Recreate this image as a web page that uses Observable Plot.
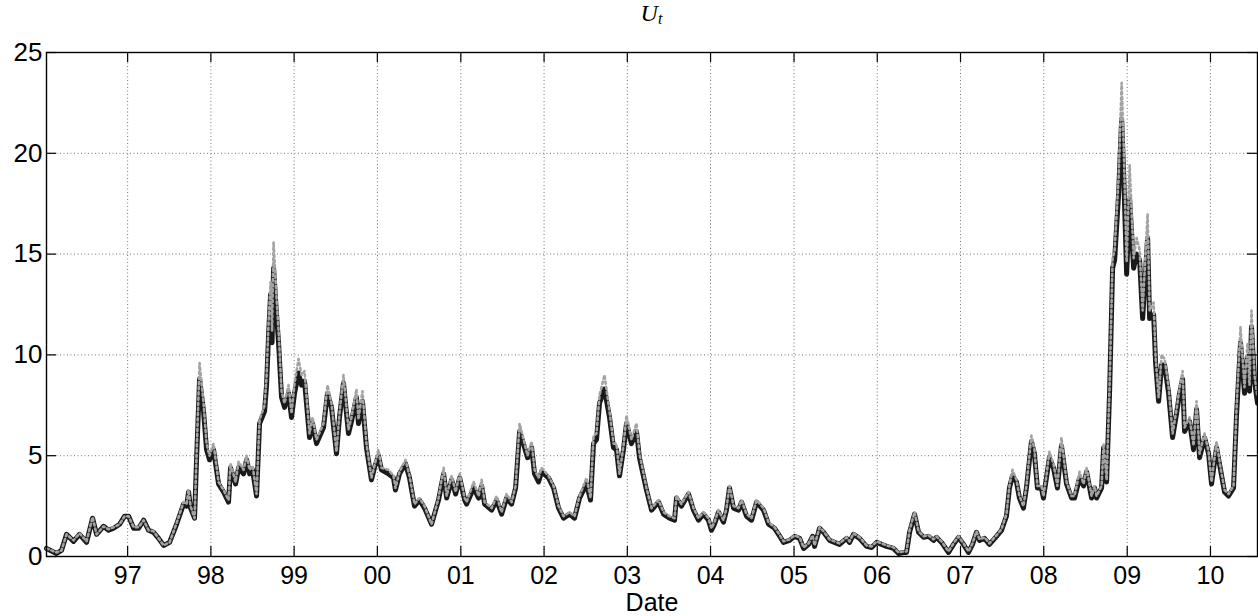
<!DOCTYPE html>
<html>
<head>
<meta charset="utf-8">
<script src="https://cdn.jsdelivr.net/npm/d3@7"></script>
<script src="https://cdn.jsdelivr.net/npm/@observablehq/plot@0.6"></script>
<style>
  html, body { margin: 0; padding: 0; background: #fff; }
  #wrap { position: relative; width: 1258px; height: 616px; }
  #title { position: absolute; top: -2px; left: 46px; width: 1211px; text-align: center;
           font-family: "Liberation Serif", "DejaVu Serif", serif; font-style: italic; font-size: 24px; line-height: 30px; }
  #title sub { font-size: 16px; vertical-align: -3px; }
</style>
</head>
<body>
<div id="wrap"><div id="title">U<sub>t</sub></div><div id="chart"></div></div>
<script>
// decimal-year time stamps
const times = [
1996.028,1996.148,1996.208,1996.268,1996.352,1996.424,1996.508,1996.580,1996.628,1996.712,1996.772,1996.832,1996.904,1996.964,
1997.012,1997.072,1997.132,1997.192,1997.252,1997.312,1997.372,1997.432,1997.504,1997.588,1997.672,1997.708,1997.732,1997.756,1997.804,1997.828,1997.864,1997.912,1997.948,1997.984,
1998.032,1998.092,1998.152,1998.212,1998.236,1998.297,1998.333,1998.393,1998.429,1998.465,1998.501,1998.549,1998.585,1998.645,1998.669,1998.693,1998.717,1998.735,1998.753,1998.789,1998.813,1998.849,1998.885,1998.933,1998.969,
1999.005,1999.053,1999.089,1999.125,1999.185,1999.221,1999.269,1999.353,1999.401,1999.449,1999.509,1999.545,1999.593,1999.653,1999.689,1999.749,1999.773,1999.821,1999.869,1999.929,1999.965,
2000.013,2000.049,2000.133,2000.193,2000.217,2000.265,2000.337,2000.385,2000.445,2000.505,2000.565,2000.649,2000.733,2000.794,2000.830,2000.890,2000.938,2000.986,
2001.046,2001.070,2001.154,2001.214,2001.250,2001.286,2001.370,2001.430,2001.490,2001.550,2001.610,2001.658,2001.706,2001.766,2001.802,2001.850,2001.886,2001.934,2001.970,
2002.054,2002.114,2002.174,2002.234,2002.306,2002.366,2002.426,2002.510,2002.558,2002.594,2002.630,2002.666,2002.726,2002.786,2002.834,2002.870,2002.906,2002.954,2002.990,
2003.050,2003.110,2003.146,2003.230,2003.291,2003.375,2003.435,2003.507,2003.567,2003.591,2003.651,2003.735,2003.795,2003.855,2003.915,2003.975,
2004.011,2004.047,2004.095,2004.155,2004.191,2004.227,2004.275,2004.335,2004.371,2004.431,2004.491,2004.551,2004.635,2004.695,2004.767,2004.815,2004.875,2004.947,
2005.007,2005.067,2005.115,2005.175,2005.223,2005.247,2005.307,2005.355,2005.427,2005.547,2005.631,2005.667,2005.715,2005.787,2005.872,2005.932,2005.992,
2006.052,2006.112,2006.196,2006.256,2006.316,2006.352,2006.388,2006.448,2006.496,2006.556,2006.616,2006.676,2006.712,2006.772,2006.856,2006.916,2006.976,
2007.036,2007.096,2007.144,2007.192,2007.228,2007.288,2007.348,2007.432,2007.492,2007.552,2007.588,2007.624,2007.672,2007.708,2007.756,2007.792,2007.852,2007.888,2007.924,2007.972,2007.996,
2008.032,2008.068,2008.116,2008.164,2008.212,2008.273,2008.333,2008.369,2008.429,2008.477,2008.513,2008.573,2008.609,2008.633,2008.693,2008.717,2008.753,2008.789,2008.825,2008.849,2008.897,2008.933,2008.957,2008.993,
2009.029,2009.077,2009.113,2009.149,2009.185,2009.245,2009.269,2009.317,2009.341,2009.377,2009.413,2009.449,2009.497,2009.545,2009.593,2009.629,2009.665,2009.689,2009.749,2009.797,2009.833,2009.869,2009.929,2009.977,
2010.013,2010.073,2010.121,2010.169,2010.217,2010.277,2010.313,2010.361,2010.409,2010.445,2010.469,2010.493,2010.529,2010.565
];
// black solid series
const seriesA = [
0.4,0.15,0.3,1.1,0.75,1.1,0.7,1.9,1.1,1.5,1.3,1.4,1.6,2.0,
2.0,1.4,1.4,1.8,1.3,1.2,0.9,0.55,0.7,1.6,2.6,2.5,3.2,2.4,1.9,4.8,8.8,7.2,5.3,4.8,
5.3,3.6,3.2,2.7,4.4,3.6,4.4,4.1,4.8,4.1,4.3,3.0,6.6,7.2,8.5,11.0,13.0,10.6,14.3,12.0,10.6,7.9,7.4,8.1,6.9,
8.1,9.1,8.5,8.7,5.9,6.6,5.6,6.4,8.1,7.4,5.1,6.9,8.6,6.1,6.7,7.9,6.6,7.7,5.4,3.8,4.4,
5.0,4.3,4.1,3.9,3.3,4.1,4.6,3.9,2.5,2.8,2.4,1.6,2.8,4.1,2.9,3.8,3.1,3.9,
2.8,2.6,3.4,2.9,3.5,2.6,2.3,2.8,2.1,2.9,2.6,3.4,6.2,5.4,4.9,5.4,4.1,3.7,4.2,
3.9,3.4,2.4,1.9,2.1,1.9,2.9,3.6,2.8,5.6,5.8,7.6,8.3,6.9,5.4,5.3,4.0,5.3,6.6,
5.6,6.2,4.9,3.3,2.3,2.7,2.1,1.9,1.8,2.9,2.5,3.1,2.3,1.8,2.1,1.8,
1.3,1.6,2.2,1.7,2.3,3.4,2.4,2.3,2.7,2.0,1.8,2.7,2.3,1.6,1.4,1.1,0.7,0.8,
1.0,0.9,0.4,0.6,1.0,0.5,1.4,1.2,0.8,0.6,0.9,0.7,1.1,0.9,0.5,0.45,0.7,
0.6,0.5,0.4,0.15,0.2,0.2,1.2,2.1,1.2,0.95,1.0,0.8,0.95,0.7,0.2,0.6,0.95,
0.6,0.2,0.6,1.2,0.8,0.9,0.6,1.0,1.3,2.0,3.4,4.0,3.7,2.9,2.4,3.4,5.7,5.1,3.4,3.4,2.9,
3.9,4.9,4.4,3.4,5.5,3.6,2.9,2.9,3.9,3.5,4.2,2.9,3.4,2.9,3.4,5.4,3.7,8.2,14.3,14.7,18.0,21.7,19.0,14.0,
17.7,14.3,15.0,14.7,11.8,15.8,11.8,12.0,9.6,7.7,9.5,9.5,8.1,5.9,7.1,8.1,8.8,6.2,6.7,5.3,7.3,4.9,5.9,5.1,
3.6,5.4,4.3,3.2,3.0,3.4,7.0,10.6,8.1,9.9,8.2,11.4,8.7,7.6
];
// grey dotted series
const seriesB = [
0.4,0.2,0.3,1.1,0.8,1.15,0.75,1.95,1.1,1.5,1.35,1.45,1.6,2.0,
2.0,1.45,1.45,1.8,1.3,1.25,0.9,0.55,0.7,1.65,2.7,2.6,3.3,2.5,1.9,5.0,9.6,7.6,5.6,5.0,
5.6,3.7,3.3,2.8,4.6,3.7,4.7,4.3,5.0,4.3,4.5,3.1,6.8,7.5,8.9,11.6,13.6,11.2,15.6,12.8,11.2,8.2,7.6,8.5,7.1,
8.6,9.8,9.0,9.2,6.1,6.9,5.8,6.6,8.5,7.6,5.2,7.1,9.0,6.3,6.9,8.3,6.8,8.2,5.6,3.9,4.5,
5.3,4.4,4.3,4.0,3.4,4.2,4.8,4.0,2.6,2.9,2.5,1.6,2.9,4.4,3.0,4.0,3.2,4.1,
2.9,2.7,3.7,3.0,3.8,2.7,2.4,3.0,2.2,3.1,2.7,3.5,6.6,5.6,5.0,5.7,4.3,3.9,4.4,
4.0,3.5,2.5,2.0,2.2,2.0,3.0,3.9,2.9,6.0,6.1,8.0,9.0,7.2,5.6,5.6,4.1,5.5,7.0,
5.8,6.6,5.1,3.4,2.4,2.8,2.2,2.0,1.9,3.0,2.6,3.2,2.4,1.9,2.2,1.9,
1.4,1.7,2.3,1.8,2.4,3.5,2.5,2.4,2.8,2.1,1.9,2.8,2.4,1.7,1.45,1.15,0.75,0.85,
1.05,0.95,0.45,0.65,1.05,0.55,1.45,1.25,0.85,0.65,0.95,0.75,1.15,0.95,0.55,0.5,0.75,
0.65,0.55,0.45,0.2,0.25,0.25,1.3,2.2,1.25,1.0,1.05,0.85,1.0,0.75,0.25,0.65,1.0,
0.65,0.25,0.65,1.25,0.85,0.95,0.65,1.05,1.35,2.1,3.5,4.3,3.8,3.0,2.5,3.5,6.0,5.3,3.5,3.5,3.0,
4.0,5.2,4.6,3.5,5.9,3.7,3.0,3.0,4.2,3.6,4.4,3.0,3.5,3.0,3.5,5.6,3.8,8.5,14.8,15.2,18.8,23.5,20.5,14.6,
19.4,14.8,15.8,15.2,12.2,17.0,12.2,12.6,9.9,7.9,10.0,9.8,8.4,6.1,7.3,8.4,9.2,6.4,6.9,5.5,7.7,5.1,6.1,5.2,
3.7,5.7,4.4,3.3,3.1,3.5,7.3,11.4,8.4,10.6,8.5,12.2,9.0,7.9
];
const xTickYears = [1997,1998,1999,2000,2001,2002,2003,2004,2005,2006,2007,2008,2009,2010];
const yTicks = [0,5,10,15,20,25];
const xDomainYears = [1996.028, 2010.565];

function toDate(t) {
  const y = Math.floor(t);
  const a = Date.UTC(y, 0, 1), b = Date.UTC(y + 1, 0, 1);
  return new Date(a + (t - y) * (b - a));
}
const data = times.map((t, i) => ({date: toDate(t), a: seriesA[i], b: seriesB[i]}));
const xTicks = xTickYears.map(y => new Date(Date.UTC(y, 0, 1)));
const gridY = yTicks.filter(v => v > 0 && v < 25);

const W = 1258, H = 616, mL = 46, mR = 1, mT = 52, mB = 60;
const pw = W - mL - mR, ph = H - mT - mB;
const font = "'Liberation Sans', Arial, Helvetica, sans-serif";

const chart = Plot.plot({
  width: W, height: H,
  marginLeft: mL, marginRight: mR, marginTop: mT, marginBottom: mB,
  style: {fontFamily: font, background: "white", color: "black"},
  x: {type: "utc", domain: xDomainYears.map(toDate)},
  y: {domain: [0, 25]},
  marks: [
    Plot.ruleX(xTicks, {stroke: "#777", strokeWidth: 1, strokeDasharray: "1,2.5"}),
    Plot.ruleY(gridY, {stroke: "#777", strokeWidth: 1, strokeDasharray: "1,2.5"}),
    Plot.lineY(data, {x: "date", y: "a", stroke: "#1a1a1a", strokeWidth: 5, strokeLinejoin: "round"}),
    Plot.lineY(data, {x: "date", y: "b", stroke: "#a3a3a3", strokeWidth: 2.6, strokeDasharray: "2.2,3"}),
    Plot.ruleX(xTicks, {stroke: "black", strokeWidth: 1.2, insetTop: ph - 10}),
    Plot.ruleX(xTicks, {stroke: "black", strokeWidth: 1.2, insetBottom: ph - 10}),
    Plot.ruleY(yTicks, {stroke: "black", strokeWidth: 1.2, insetRight: pw - 10}),
    Plot.ruleY(yTicks, {stroke: "black", strokeWidth: 1.2, insetLeft: pw - 10}),
    Plot.frame({stroke: "black", strokeWidth: 1.4}),
    Plot.axisX(xTicks, {tickSize: 0, tickPadding: 10, fontSize: 25, tickFormat: d3.utcFormat("%y"),
      label: "Date", labelAnchor: "center", labelArrow: "none", labelOffset: 54}),
    Plot.axisY(yTicks, {tickSize: 0, tickPadding: 4, fontSize: 26, label: null})
  ]
});
document.getElementById("chart").appendChild(chart);
</script>
</body>
</html>
